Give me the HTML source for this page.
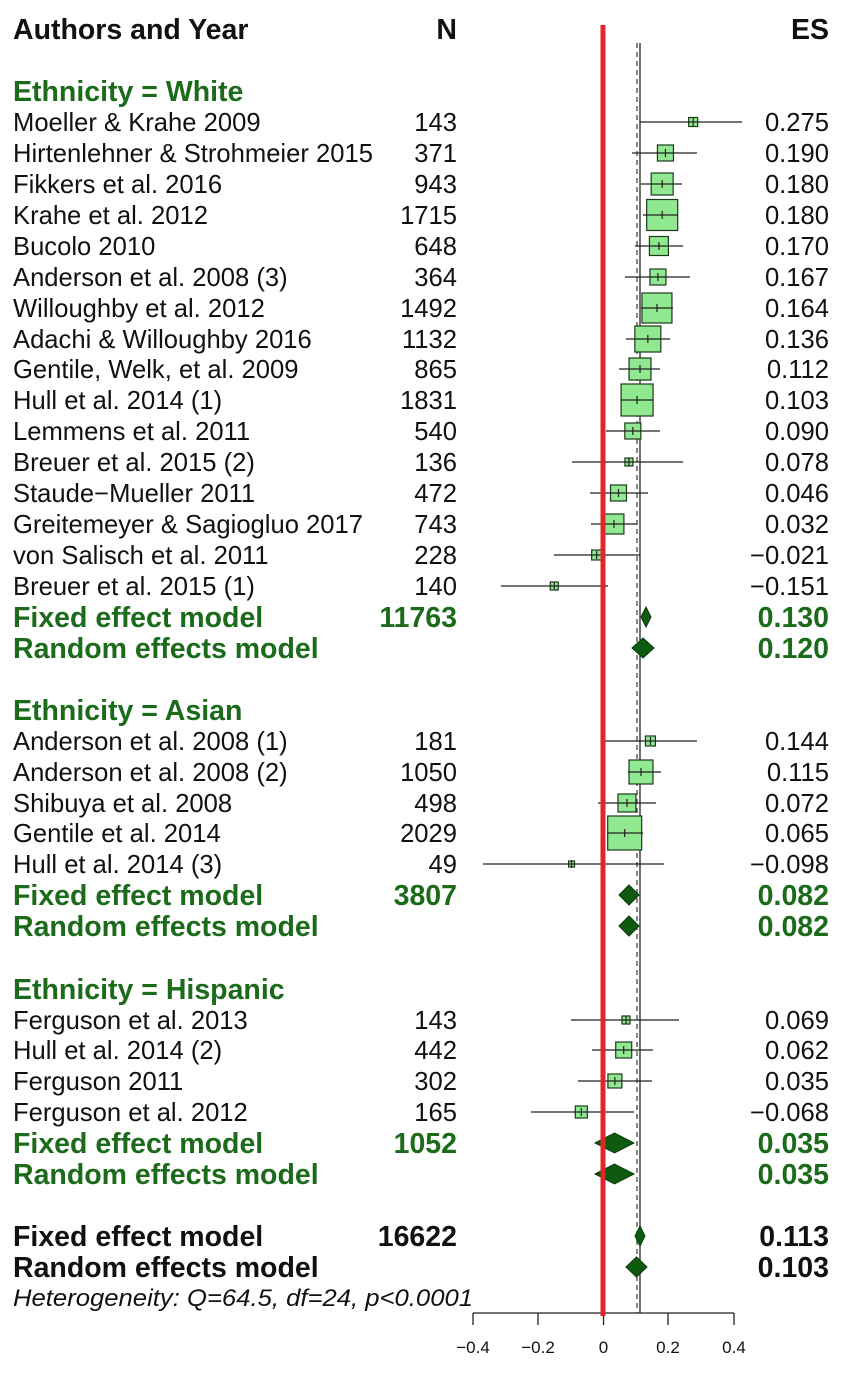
<!DOCTYPE html>
<html><head><meta charset="utf-8"><style>
html,body{margin:0;padding:0;background:#fff;}
svg{display:block;}
text{font-family:"Liberation Sans",Arial,sans-serif;font-size:25.6px;fill:#111;}
.b{font-weight:bold;font-size:28.5px;transform:translateY(2px);}
.g{fill:#1b6b1b;}
.r{text-anchor:end;}
.ax{font-size:17px;text-anchor:middle;}
</style></head><body>
<svg id="s" width="844" height="1373" viewBox="0 0 844 1373" xmlns="http://www.w3.org/2000/svg">
<rect width="844" height="1373" fill="#fff"/>
<g id="shapes"></g>
<text class="b" x="13" y="37">Authors and Year</text>
<text class="b r" x="457" y="37">N</text>
<text class="b r" x="829" y="37">ES</text>

<text class="b g" x="13" y="99">Ethnicity = White</text>
<g>
<text x="13" y="131">Moeller &amp; Krahe 2009</text><text class="r" x="457" y="131">143</text><text class="r" x="829" y="131">0.275</text>
<text x="13" y="162">Hirtenlehner &amp; Strohmeier 2015</text><text class="r" x="457" y="162">371</text><text class="r" x="829" y="162">0.190</text>
<text x="13" y="193">Fikkers et al. 2016</text><text class="r" x="457" y="193">943</text><text class="r" x="829" y="193">0.180</text>
<text x="13" y="224">Krahe et al. 2012</text><text class="r" x="457" y="224">1715</text><text class="r" x="829" y="224">0.180</text>
<text x="13" y="255">Bucolo 2010</text><text class="r" x="457" y="255">648</text><text class="r" x="829" y="255">0.170</text>
<text x="13" y="286">Anderson et al. 2008 (3)</text><text class="r" x="457" y="286">364</text><text class="r" x="829" y="286">0.167</text>
<text x="13" y="317">Willoughby et al. 2012</text><text class="r" x="457" y="317">1492</text><text class="r" x="829" y="317">0.164</text>
<text x="13" y="348">Adachi &amp; Willoughby 2016</text><text class="r" x="457" y="348">1132</text><text class="r" x="829" y="348">0.136</text>
<text x="13" y="378">Gentile, Welk, et al. 2009</text><text class="r" x="457" y="378">865</text><text class="r" x="829" y="378">0.112</text>
<text x="13" y="409">Hull et al. 2014 (1)</text><text class="r" x="457" y="409">1831</text><text class="r" x="829" y="409">0.103</text>
<text x="13" y="440">Lemmens et al. 2011</text><text class="r" x="457" y="440">540</text><text class="r" x="829" y="440">0.090</text>
<text x="13" y="471">Breuer et al. 2015 (2)</text><text class="r" x="457" y="471">136</text><text class="r" x="829" y="471">0.078</text>
<text x="13" y="502">Staude−Mueller 2011</text><text class="r" x="457" y="502">472</text><text class="r" x="829" y="502">0.046</text>
<text x="13" y="533">Greitemeyer &amp; Sagiogluo 2017</text><text class="r" x="457" y="533">743</text><text class="r" x="829" y="533">0.032</text>
<text x="13" y="564">von Salisch et al. 2011</text><text class="r" x="457" y="564">228</text><text class="r" x="829" y="564">−0.021</text>
<text x="13" y="595">Breuer et al. 2015 (1)</text><text class="r" x="457" y="595">140</text><text class="r" x="829" y="595">−0.151</text>
</g>
<text class="b g" x="13" y="625">Fixed effect model</text><text class="b g r" x="457" y="625">11763</text><text class="b g r" x="829" y="625">0.130</text>
<text class="b g" x="13" y="656">Random effects model</text><text class="b g r" x="829" y="656">0.120</text>

<text class="b g" x="13" y="718">Ethnicity = Asian</text>
<text x="13" y="750">Anderson et al. 2008 (1)</text><text class="r" x="457" y="750">181</text><text class="r" x="829" y="750">0.144</text>
<text x="13" y="781">Anderson et al. 2008 (2)</text><text class="r" x="457" y="781">1050</text><text class="r" x="829" y="781">0.115</text>
<text x="13" y="812">Shibuya et al. 2008</text><text class="r" x="457" y="812">498</text><text class="r" x="829" y="812">0.072</text>
<text x="13" y="842">Gentile et al. 2014</text><text class="r" x="457" y="842">2029</text><text class="r" x="829" y="842">0.065</text>
<text x="13" y="873">Hull et al. 2014 (3)</text><text class="r" x="457" y="873">49</text><text class="r" x="829" y="873">−0.098</text>
<text class="b g" x="13" y="903">Fixed effect model</text><text class="b g r" x="457" y="903">3807</text><text class="b g r" x="829" y="903">0.082</text>
<text class="b g" x="13" y="934">Random effects model</text><text class="b g r" x="829" y="934">0.082</text>

<text class="b g" x="13" y="997">Ethnicity = Hispanic</text>
<text x="13" y="1029">Ferguson et al. 2013</text><text class="r" x="457" y="1029">143</text><text class="r" x="829" y="1029">0.069</text>
<text x="13" y="1059">Hull et al. 2014 (2)</text><text class="r" x="457" y="1059">442</text><text class="r" x="829" y="1059">0.062</text>
<text x="13" y="1090">Ferguson 2011</text><text class="r" x="457" y="1090">302</text><text class="r" x="829" y="1090">0.035</text>
<text x="13" y="1121">Ferguson et al. 2012</text><text class="r" x="457" y="1121">165</text><text class="r" x="829" y="1121">−0.068</text>
<text class="b g" x="13" y="1151">Fixed effect model</text><text class="b g r" x="457" y="1151">1052</text><text class="b g r" x="829" y="1151">0.035</text>
<text class="b g" x="13" y="1182">Random effects model</text><text class="b g r" x="829" y="1182">0.035</text>

<text class="b" x="13" y="1244">Fixed effect model</text><text class="b r" x="457" y="1244">16622</text><text class="b r" x="829" y="1244">0.113</text>
<text class="b" x="13" y="1275">Random effects model</text><text class="b r" x="829" y="1275">0.103</text>
<text x="13" y="1306" style="font-style:italic;font-size:24px" textLength="460" lengthAdjust="spacingAndGlyphs">Heterogeneity: Q=64.5, df=24, p&lt;0.0001</text>

<text class="ax" x="473" y="1353">−0.4</text>
<text class="ax" x="538" y="1353">−0.2</text>
<text class="ax" x="603.5" y="1353">0</text>
<text class="ax" x="668" y="1353">0.2</text>
<text class="ax" x="734" y="1353">0.4</text>
</svg>
<script>
var g=document.getElementById('shapes'),NS='http://www.w3.org/2000/svg';
function el(t,a){var e=document.createElementNS(NS,t);for(var k in a)e.setAttribute(k,a[k]);g.appendChild(e);return e;}
var X=function(v){return 603.5+326*v;};
el('line',{x1:637,y1:43,x2:637,y2:1313,stroke:'#444','stroke-width':1.3,'stroke-dasharray':'5,4'});
el('line',{x1:640,y1:43,x2:640,y2:1313,stroke:'#222','stroke-width':1.3});
el('line',{x1:473,y1:1313,x2:734,y2:1313,stroke:'#222','stroke-width':1.3});
[473,538,603.5,668,734].forEach(function(x){el('line',{x1:x,y1:1313,x2:x,y2:1325,stroke:'#222','stroke-width':1.3});});
var st=[
[122,.275,640,742,9],[153,.190,632,697,16],[184,.180,641,682,22],[215,.180,643,678,31],[246,.170,635,683,19],
[277,.167,625,690,16],[308,.164,641,673,30],[339,.136,626,670,26],[369,.112,619,660,22],[400,.103,621,653,32],
[431,.090,606,660,16],[462,.078,572,683,8],[493,.046,590,648,16],[524,.032,591,637,20],[555,-.021,554,640,10],[586,-.151,501,608,8],
[741,.144,605,697,10],[772,.115,628,661,24],[803,.072,598,656,18],[833,.065,607,643,34],[864,-.098,483,664,6],
[1020,.069,571,679,8],[1050,.062,592,653,16],[1081,.035,578,652,14],[1112,-.068,531,634,12]];
st.forEach(function(s){var y=s[0],x=X(s[1]),h=s[4]/2;
el('rect',{x:x-h,y:y-h,width:s[4],height:s[4],fill:'#90e890',stroke:'#1a3a1a','stroke-width':1.2});
el('line',{x1:s[2],y1:y,x2:s[3],y2:y,stroke:'#222','stroke-width':1.2});
el('line',{x1:x,y1:y-4,x2:x,y2:y+4,stroke:'#222','stroke-width':1.2});});
var d=[[617,641,651],[648,632,654],[895,619,639],[926,619,639],[1143,595,634],[1174,595,634],[1236,635,645],[1267,626,647]];
d.forEach(function(a){var y=a[0],c=(a[1]+a[2])/2;
el('polygon',{points:a[1]+','+y+' '+c+','+(y-10)+' '+a[2]+','+y+' '+c+','+(y+10),fill:'#0e5a0e',stroke:'#0a3a0a','stroke-width':1});});
el('line',{x1:603,y1:25,x2:603,y2:1316,stroke:'#e3242b','stroke-width':5});
</script>
</body></html>
